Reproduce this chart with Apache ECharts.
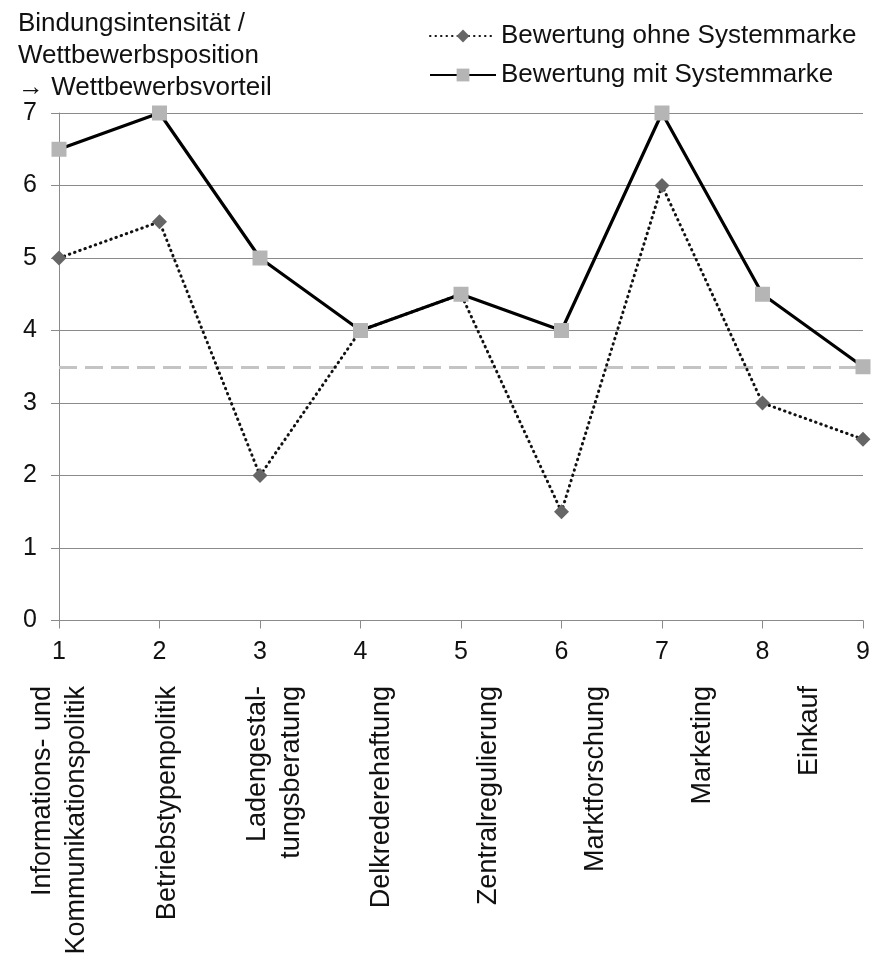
<!DOCTYPE html>
<html>
<head>
<meta charset="utf-8">
<script src="https://cdn.jsdelivr.net/npm/echarts@6/dist/echarts.min.js"></script>
<style>
html,body{margin:0;padding:0;background:#fff;}
#chart{width:873px;height:961px;}
</style>
</head>
<body>
<div id="chart"></div>
<script>
const xPositions = [1, 2, 3, 4, 5, 6, 7, 8, 9];
const categories = [
  "Informations- und\nKommunikationspolitik",
  "Betriebstypenpolitik",
  "Ladengestal-\ntungsberatung",
  "Delkrederehaftung",
  "Zentralregulierung",
  "Marktforschung",
  "Marketing",
  "Einkauf"
];
const seriesNames = ["Bewertung ohne Systemmarke", "Bewertung mit Systemmarke"];
const ohneSystemmarke = [5, 5.5, 2, 4, 4.5, 1.5, 6, 3, 2.5];
const mitSystemmarke = [6.5, 7, 5, 4, 4.5, 4, 7, 4.5, 3.5];
const referenceLevel = 3.5;
const yTicks = [0, 1, 2, 3, 4, 5, 6, 7];
const yTitle = "Bindungsintensität /\nWettbewerbsposition\n→ Wettbewerbsvorteil";

const FONT = "'Liberation Sans', Arial, sans-serif";
const AXIS_GRAY = "#8a8a8a";

const chart = echarts.init(document.getElementById('chart'), null, {renderer: 'canvas'});
const pair = (xs, ys) => xs.map((x, i) => [x, ys[i]]);

chart.setOption({
  animation: false,
  backgroundColor: '#ffffff',
  textStyle: {fontFamily: FONT},
  title: {
    text: yTitle,
    left: 13,
    top: 3,
    textStyle: {fontFamily: FONT, fontSize: 26, fontWeight: 'normal', color: '#111', lineHeight: 32}
  },
  legend: {
    orient: 'vertical',
    left: 424,
    top: 16,
    itemWidth: 66,
    itemHeight: 16,
    itemGap: 9,
    itemTextGap: 15,
    data: seriesNames,
    textStyle: {fontFamily: FONT, fontSize: 26, color: '#111', lineHeight: 30}
  },
  grid: [
    {left: 59, right: 10, top: 113, bottom: 340.5, containLabel: false},
    {left: 6.4, right: 9.4, top: 620, height: 1, containLabel: false}
  ],
  xAxis: [
    {
      gridIndex: 0,
      type: 'value',
      min: xPositions[0],
      max: xPositions[xPositions.length - 1],
      interval: 1,
      axisLine: {show: true, onZero: false, lineStyle: {color: AXIS_GRAY, width: 1}},
      axisTick: {show: true, length: 8, lineStyle: {color: AXIS_GRAY}},
      splitLine: {show: false},
      axisLabel: {fontFamily: FONT, fontSize: 25, color: '#111', margin: 19}
    },
    {
      gridIndex: 1,
      type: 'category',
      data: categories,
      boundaryGap: true,
      position: 'bottom',
      axisLine: {show: false},
      axisTick: {show: false},
      splitLine: {show: false},
      axisLabel: {interval: 0, rotate: 90, margin: 65, fontFamily: FONT, fontSize: 27, lineHeight: 34, color: '#111'}
    }
  ],
  yAxis: [
    {
      gridIndex: 0,
      type: 'value',
      min: yTicks[0],
      max: yTicks[yTicks.length - 1],
      interval: 1,
      axisLine: {show: true, lineStyle: {color: AXIS_GRAY, width: 1}},
      axisTick: {show: true, length: 8, lineStyle: {color: AXIS_GRAY}},
      splitLine: {show: true, lineStyle: {color: AXIS_GRAY, width: 1}},
      axisLabel: {fontFamily: FONT, fontSize: 25, color: '#111', margin: 22}
    },
    {gridIndex: 1, type: 'value', show: false}
  ],
  series: [
    {
      name: seriesNames[0],
      type: 'line',
      xAxisIndex: 0, yAxisIndex: 0,
      data: pair(xPositions, ohneSystemmarke),
      symbol: 'diamond',
      symbolSize: 15,
      itemStyle: {color: '#666666'},
      lineStyle: {color: '#111', width: 3, type: [0.5, 5], cap: 'round'},
      z: 3,
      markLine: {
        silent: true,
        symbol: ['none', 'none'],
        label: {show: false},
        lineStyle: {color: '#c4c4c4', width: 3, type: [18, 8]},
        data: [{yAxis: referenceLevel}],
        z: 2
      }
    },
    {
      name: seriesNames[1],
      type: 'line',
      xAxisIndex: 0, yAxisIndex: 0,
      data: pair(xPositions, mitSystemmarke),
      symbol: 'rect',
      symbolSize: 15,
      itemStyle: {color: '#b5b5b5'},
      lineStyle: {color: '#000', width: 3.2, type: 'solid'},
      z: 4
    }
  ]
});
</script>
</body>
</html>
